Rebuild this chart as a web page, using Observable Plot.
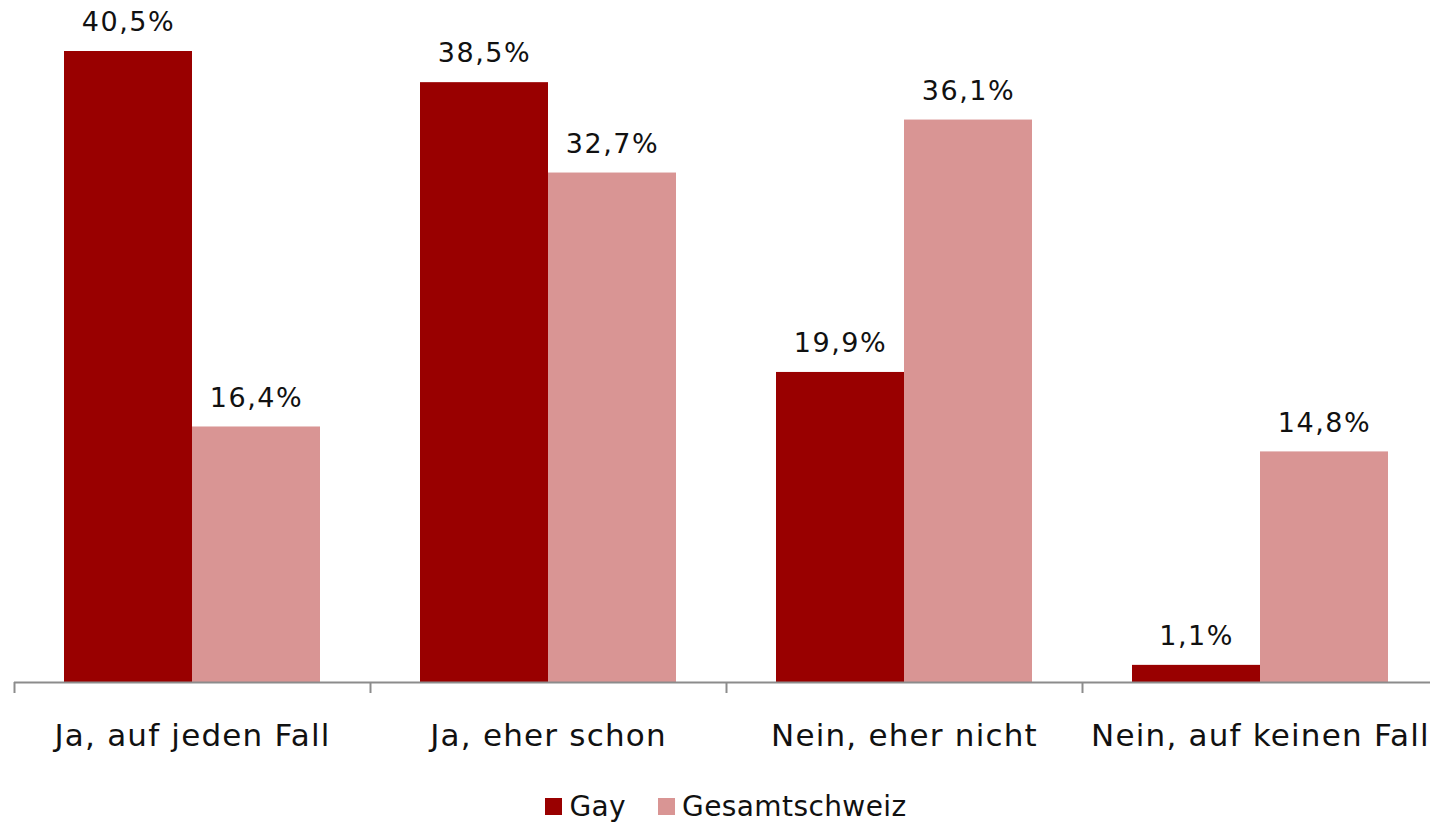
<!DOCTYPE html>
<html><head><meta charset="utf-8">
<script src="https://cdn.jsdelivr.net/npm/d3@7"></script>
<script src="https://cdn.jsdelivr.net/npm/@observablehq/plot@0.6"></script>
<style>
body{margin:0;background:#fff;overflow:hidden;font-family:"DejaVu Sans",sans-serif;}
#legend{display:flex;justify-content:center;align-items:center;font-size:28px;color:#111;letter-spacing:0.4px;padding-left:22px;margin-top:15px;}
#legend .item{display:flex;align-items:center;margin:0 32px 0 0;}
#legend .item:last-child{margin-right:0;}
#legend .sw{width:17px;height:17px;margin-right:7px;display:inline-block;}
#chart svg g[aria-label="text"] text{letter-spacing:1.5px;}
#chart svg g[aria-label="fx-axis tick label"] text{letter-spacing:1.2px;}
</style></head>
<body><div id="chart"></div><div id="legend"></div>
<script>
const categories = ["Ja, auf jeden Fall", "Ja, eher schon", "Nein, eher nicht", "Nein, auf keinen Fall"];
const series = ["Gay", "Gesamtschweiz"];
const gayValues = [40.5, 38.5, 19.9, 1.1];
const gesamtValues = [16.4, 32.7, 36.1, 14.8];
const colors = ["#990000", "#D99594"];

const data = [];
categories.forEach((c, i) => {
  data.push({category: c, series: series[0], value: gayValues[i]});
  data.push({category: c, series: series[1], value: gesamtValues[i]});
});
const fmt = v => v.toFixed(1).replace(".", ",") + "%";

const plot = Plot.plot({
  width: 1430,
  height: 775,
  marginTop: 51,
  marginBottom: 93,
  marginLeft: 14,
  marginRight: -8,
  style: {fontFamily: "DejaVu Sans, sans-serif", background: "#fff", overflow: "visible"},
  facet: {data, x: "category"},
  fx: {domain: categories, padding: 0, label: null, axis: null},
  x: {domain: series, paddingInner: 0, paddingOuter: 0.39, axis: null},
  y: {domain: [0, 40.5], axis: null},
  color: {domain: series, range: colors},
  marks: [
    Plot.barY(data, {x: "series", y: "value", fill: "series"}),
    Plot.text(data, {x: "series", y: "value", text: d => fmt(d.value), dy: -29, fontSize: 27, fill: "#111"}),
    Plot.ruleY([0], {stroke: "#8c8c8c", strokeWidth: 2}),
    Plot.axisFx({anchor: "bottom", tickSize: 0, tickPadding: 41, fontSize: 31, label: null, color: "#111"}),
    Plot.axisFx({anchor: "bottom", tickSize: 11, tickFormat: () => "", label: null, dx: -178, stroke: "#8c8c8c", strokeWidth: 2})
  ]
});
document.getElementById("chart").appendChild(plot);

const legend = document.getElementById("legend");
series.forEach((s, i) => {
  const item = document.createElement("span");
  item.className = "item";
  const sw = document.createElement("span");
  sw.className = "sw";
  sw.style.background = colors[i];
  item.appendChild(sw);
  item.appendChild(document.createTextNode(s));
  legend.appendChild(item);
});
</script></body></html>
